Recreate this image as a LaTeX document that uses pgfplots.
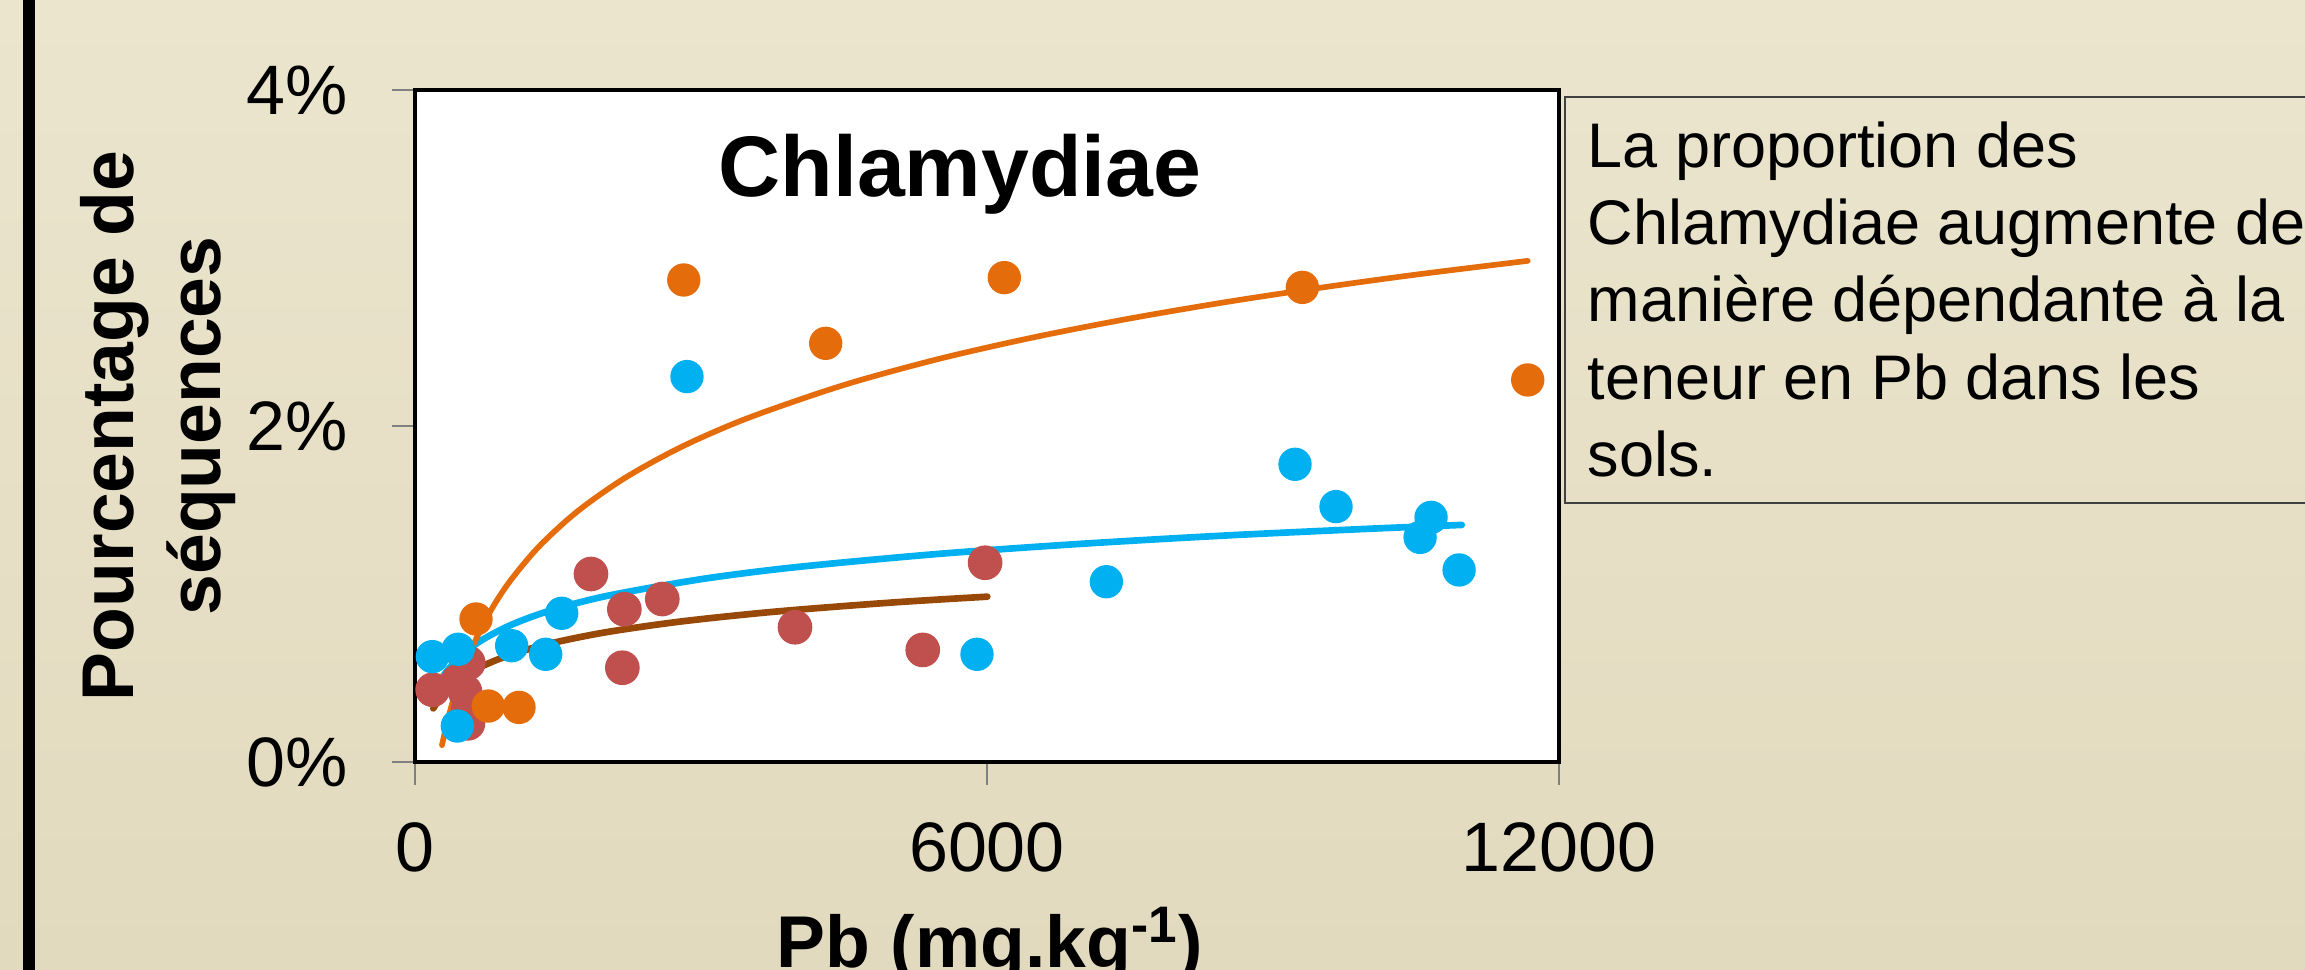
\documentclass[border=0pt]{standalone}
\usepackage{pgfplots}
\pgfplotsset{compat=1.18}
\usepackage{fontspec}
\setmainfont{Liberation Sans}
\definecolor{bgtop}{RGB}{235,229,206}
\definecolor{bgbot}{RGB}{226,218,190}
\definecolor{corange}{RGB}{228,108,10}
\definecolor{cblue}{RGB}{0,176,240}
\definecolor{cred}{RGB}{192,80,77}
\definecolor{cbrown}{RGB}{152,72,7}
\begin{document}
\begin{tikzpicture}
\useasboundingbox (0pt,0pt) rectangle (691.5pt,291pt);
\clip (0pt,0pt) rectangle (691.5pt,291pt);
\begin{scope}[x=0.3pt,y=0.3pt]
\shade[top color=bgtop,bottom color=bgbot] (0,0) rectangle (2305,970);
\fill[black] (23,0) rectangle (35,970);
\draw[line width=0.6pt, draw=black!75] (1565,873) rectangle (2340,467);
\begin{scope}[every node/.style={anchor=base west, inner sep=0pt, font=\fontsize{18.9}{23}\selectfont}]
\node at (1587,802) {La proportion des};
\node at (1587,725) {Chlamydiae augmente de};
\node at (1587,648) {manière dépendante à la};
\node at (1587,570) {teneur en Pb dans les};
\node at (1587,493) {sols.};
\end{scope}
\node[anchor=base, inner sep=0pt, rotate=90, font=\fontsize{22}{26}\selectfont\bfseries] at (133,544) {Pourcentage de};
\node[anchor=base, inner sep=0pt, rotate=90, font=\fontsize{22}{26}\selectfont\bfseries] at (220,544) {séquences};
\node[anchor=base, inner sep=0pt, font=\fontsize{22}{26}\selectfont\bfseries] at (990,2) {Pb (mg.kg\textsuperscript{-1})};
\end{scope}
\begin{axis}[
  at={(124.5pt,62.4pt)}, anchor=south west,
  width=343.2pt, height=201.6pt, scale only axis,
  xmin=0, xmax=12000, ymin=0, ymax=4,
  axis background/.style={fill=white},
  axis line style={line width=1.2pt, black},
  tick align=outside, major tick length=6.9pt,
  xtick pos=left, ytick pos=left,
  tick style={draw=gray, line width=0.6pt},
  scaled x ticks=false, scaled y ticks=false,
  xtick={0,6000,12000}, xticklabels={0,6000,12000},
  ytick={0,2,4}, yticklabels={0\%,2\%,4\%},
  /pgf/number format/assume math mode=true,
  ticklabel style={font=\fontsize{21}{25}\selectfont},
  xticklabel style={anchor=north, inner sep=0pt, yshift=-11pt},
  yticklabel style={anchor=east, inner sep=0pt, xshift=-13pt},
]
% markers
\addplot[only marks, mark=*, mark size=5pt, mark options={fill=cred, draw=cred}] coordinates {
 (185,0.43) (450,0.48) (524,0.42) (559,0.59) (556,0.31) (556,0.23)
 (1846,1.119) (2196,0.909) (2594,0.970) (2175,0.561) (3986,0.802)
 (5326,0.667) (5980,1.186)
};
\addplot[only marks, mark=*, mark size=4.8pt, mark options={fill=corange, draw=corange}] coordinates {
 (2819,2.869) (4308,2.492) (6182,2.883) (9308,2.825) (11672,2.274)
 (640,0.851) (769,0.333) (1091,0.325)
};
\addplot[only marks, mark=*, mark size=4.8pt, mark options={fill=cblue, draw=cblue}] coordinates {
 (2853,2.294) (7252,1.073) (5895,0.641) (9231,1.772) (9661,1.520)
 (10658,1.456) (10543,1.337) (10952,1.143)
 (182,0.627) (454,0.671) (1014,0.692) (1371,0.641) (1539,0.885) (444,0.214)
};
% trend lines
\addplot[cblue, line width=2pt, line cap=round, smooth] coordinates {
 (182,0.389) (250,0.469) (350,0.552) (500,0.641) (700,0.725) (1000,0.814)
 (1400,0.898) (2000,0.987) (3000,1.088) (4000,1.160) (5500,1.239)
 (7000,1.299) (8500,1.348) (10000,1.388) (10980,1.411)
};
\addplot[cbrown, line width=2pt, line cap=round, smooth] coordinates {
 (192,0.319) (250,0.370) (350,0.435) (500,0.504) (700,0.569) (1000,0.638)
 (1400,0.703) (2000,0.772) (2800,0.837) (3800,0.896) (5000,0.949) (6003,0.984)
};
\addplot[corange, line width=1.7pt, line cap=round, smooth] coordinates {
 (283,0.100) (350,0.265) (450,0.460) (600,0.683) (800,0.906) (1000,1.079)
 (1300,1.282) (1700,1.490) (2200,1.690) (2800,1.877) (3500,2.049)
 (4500,2.244) (5500,2.400) (6500,2.529) (7500,2.640) (8500,2.737)
 (9500,2.823) (10500,2.901) (11672,2.983)
};
\end{axis}
\node[anchor=base, inner sep=0pt, font=\fontsize{25.8}{30}\selectfont\bfseries] at (288pt,231.9pt) {Chlamydiae};
\end{tikzpicture}
\end{document}
